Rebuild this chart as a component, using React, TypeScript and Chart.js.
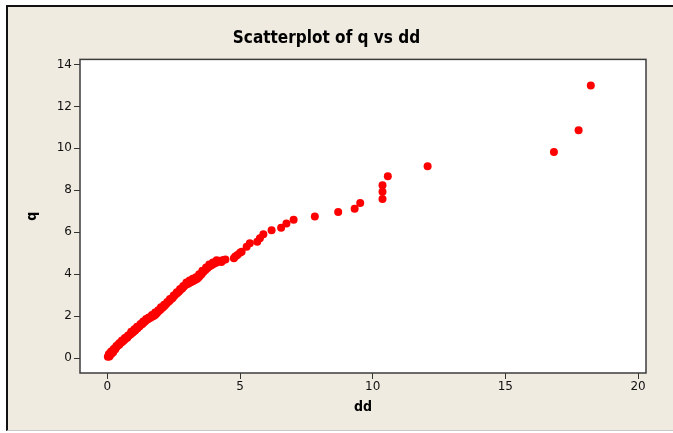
import React, { useEffect, useRef } from "react";
import { Chart, registerables } from "chart.js";

Chart.register(...registerables);

const ddValues: number[] = [
  0.02, 0.05, 0.08, 0.1, 0.12, 0.15, 0.18, 0.2, 0.22, 0.25, 0.28, 0.3, 0.33, 0.36, 0.4, 0.42, 0.45, 0.5, 0.53, 0.57,
  0.6, 0.64, 0.68, 0.72, 0.75, 0.8, 0.84, 0.88, 0.92, 0.96, 1.0, 1.05, 1.1, 1.14, 1.18, 1.22, 1.27, 1.32, 1.37, 1.42,
  1.48, 1.53, 1.58, 1.64, 1.7, 1.76, 1.82, 1.88, 1.94, 2.0, 2.05, 2.1, 2.16, 2.22, 2.28, 2.34, 2.4, 2.46, 2.52, 2.58,
  2.64, 2.7, 2.76, 2.82, 2.88, 2.94, 3.0, 3.06, 3.12, 3.18, 3.24, 3.3, 3.36, 3.42, 3.48, 3.55, 3.62, 3.7, 3.78, 3.86,
  3.94, 4.02, 4.1, 4.18, 4.26, 4.37, 4.77, 4.9, 5.06, 5.25, 5.37, 5.65, 5.75, 5.88, 6.19, 6.55, 6.75, 7.02, 7.82, 8.7,
  9.32, 9.53, 10.37, 10.37, 10.37, 10.57, 12.07, 16.83, 17.76, 18.22,
  0.06, 0.14, 0.24, 0.34, 0.46, 0.55, 0.66, 0.78, 0.9, 1.02, 1.12, 1.25, 1.35, 1.46, 1.56, 1.68, 1.8, 1.92, 2.02, 2.14,
  2.26, 2.36, 2.5, 2.62, 2.74, 2.86, 2.98, 3.1, 3.22, 3.34, 3.46, 3.58, 3.72, 3.84, 3.98, 4.12, 4.3, 4.45, 4.82, 5.0,
];

const qValues: number[] = [
  0.06, 0.12, 0.08, 0.18, 0.22, 0.2, 0.3, 0.34, 0.28, 0.4, 0.45, 0.42, 0.52, 0.55, 0.6, 0.66, 0.64, 0.72, 0.76, 0.78,
  0.84, 0.86, 0.92, 0.98, 0.97, 1.06, 1.1, 1.14, 1.2, 1.22, 1.28, 1.32, 1.4, 1.42, 1.5, 1.52, 1.6, 1.63, 1.7, 1.74,
  1.82, 1.85, 1.9, 1.94, 1.98, 2.02, 2.08, 2.16, 2.24, 2.3, 2.38, 2.42, 2.5, 2.58, 2.66, 2.72, 2.8, 2.86, 2.96, 3.04,
  3.1, 3.18, 3.26, 3.32, 3.4, 3.48, 3.52, 3.56, 3.6, 3.64, 3.68, 3.72, 3.76, 3.82, 3.9, 4.0, 4.1, 4.2, 4.3, 4.38,
  4.44, 4.5, 4.54, 4.6, 4.64, 4.68, 4.76, 4.91, 5.07, 5.31, 5.47, 5.55, 5.71, 5.91, 6.1, 6.22, 6.42, 6.6, 6.75, 6.97,
  7.12, 7.4, 7.59, 7.93, 8.24, 8.67, 9.15, 9.82, 10.86, 13.0,
  0.2, 0.32, 0.44, 0.58, 0.72, 0.84, 0.96, 1.08, 1.26, 1.38, 1.5, 1.62, 1.74, 1.86, 1.94, 2.06, 2.18, 2.28, 2.42, 2.54,
  2.68, 2.82, 2.98, 3.14, 3.3, 3.44, 3.6, 3.7, 3.78, 3.86, 4.0, 4.16, 4.32, 4.46, 4.56, 4.66, 4.58, 4.7, 4.84, 5.02,
];

const xTicks: number[] = [0, 5, 10, 15, 20];
const yTicks: number[] = [0, 2, 4, 6, 8, 10, 12, 14];

const TITLE = "Scatterplot of q vs dd";
const X_LABEL = "dd";
const Y_LABEL = "q";

const TITLE_FONT = "'DejaVu Sans Condensed', 'DejaVu Sans', sans-serif";
const TICK_FONT = "'DejaVu Sans', sans-serif";

const framePlugin = {
  id: "frame",
  beforeDatasetsDraw(chart: any) {
    const { ctx, chartArea } = chart;
    ctx.save();
    ctx.fillStyle = "#ffffff";
    ctx.fillRect(chartArea.left, chartArea.top, chartArea.right - chartArea.left, chartArea.bottom - chartArea.top);
    ctx.restore();
  },
  afterDatasetsDraw(chart: any) {
    const { ctx, chartArea } = chart;
    ctx.save();
    ctx.strokeStyle = "#3c3c3c";
    ctx.lineWidth = 1.5;
    ctx.strokeRect(chartArea.left, chartArea.top, chartArea.right - chartArea.left, chartArea.bottom - chartArea.top);
    ctx.restore();
  },
};

export default function App() {
  const canvasRef = useRef<HTMLCanvasElement | null>(null);

  useEffect(() => {
    if (!canvasRef.current) return;
    const points = ddValues.map((x, i) => ({ x, y: qValues[i] }));
    const chart = new Chart(canvasRef.current, {
      type: "scatter",
      data: {
        datasets: [
          {
            data: points,
            backgroundColor: "#ff0000",
            borderWidth: 0,
            pointRadius: 4,
            pointHoverRadius: 4,
          },
        ],
      },
      plugins: [framePlugin],
      options: {
        animation: false,
        responsive: false,
        maintainAspectRatio: false,
        layout: { padding: { left: 7, right: 27, top: 0, bottom: 0 } },
        plugins: {
          legend: { display: false },
          tooltip: { enabled: false },
          title: {
            display: true,
            text: TITLE,
            color: "#000000",
            font: { family: TITLE_FONT, size: 17, weight: "bold" },
            padding: { top: 28, bottom: 11 },
          },
        },
        scales: {
          x: {
            type: "linear",
            min: -1.03,
            max: 20.3,
            afterFit: (scale: any) => {
              scale.height = 60;
            },
            afterBuildTicks: (scale: any) => {
              scale.ticks = xTicks.map((v) => ({ value: v }));
            },
            grid: { drawOnChartArea: false, drawTicks: true, tickLength: 6, color: "#333333" },
            border: { display: false },
            ticks: {
              color: "#111111",
              font: { family: TICK_FONT, size: 12 },
              padding: 1,
              maxRotation: 0,
              callback: (v: any) => String(v),
            },
            title: {
              display: true,
              text: X_LABEL,
              color: "#000000",
              font: { family: TITLE_FONT, size: 14, weight: "bold" },
              padding: { top: 0, bottom: 17 },
            },
          },
          y: {
            type: "linear",
            min: -0.71,
            max: 14.24,
            afterFit: (scale: any) => {
              scale.width = 73;
            },
            afterBuildTicks: (scale: any) => {
              scale.ticks = yTicks.map((v) => ({ value: v }));
            },
            grid: { drawOnChartArea: false, drawTicks: true, tickLength: 6, color: "#333333" },
            border: { display: false },
            ticks: {
              color: "#111111",
              font: { family: TICK_FONT, size: 12 },
              padding: 2,
              callback: (v: any) => String(v),
            },
            title: {
              display: true,
              text: Y_LABEL,
              color: "#000000",
              font: { family: TITLE_FONT, size: 14, weight: "bold" },
              padding: { top: 17, bottom: 0 },
            },
          },
        },
      },
    });
    return () => chart.destroy();
  }, []);

  return (
    <div style={{ position: "fixed", left: 0, top: 0, width: 673, height: 433, background: "#ffffff" }}>
      <div
        style={{
          position: "absolute",
          left: 6,
          top: 5,
          width: 667,
          height: 426,
          background: "#efebe1",
          borderLeft: "2px solid #111111",
          borderTop: "2px solid #111111",
          borderBottom: "1px solid #c8c8c8",
          boxSizing: "border-box",
        }}
      />
      <canvas
        ref={canvasRef}
        width={673}
        height={433}
        style={{ position: "absolute", left: 0, top: 0, width: 673, height: 433 }}
      />
    </div>
  );
}
